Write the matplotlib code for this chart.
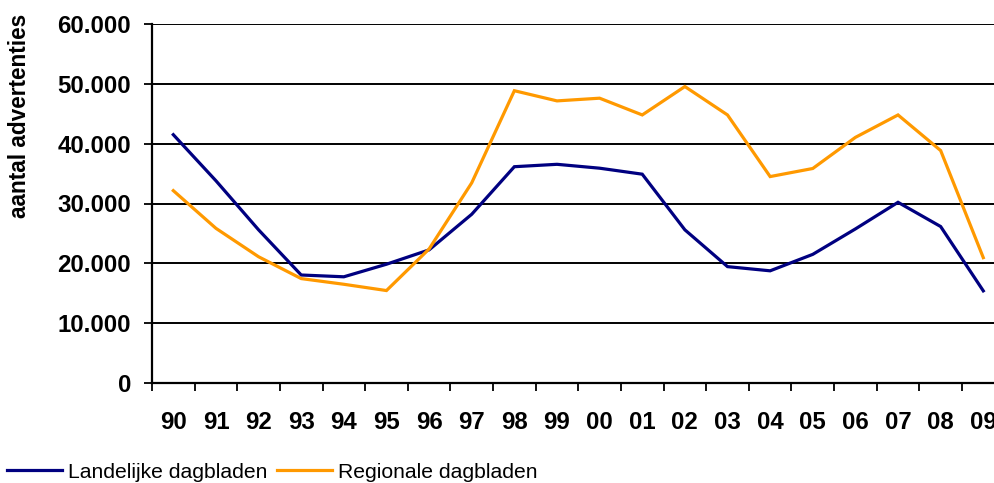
import numpy as np
import matplotlib
matplotlib.use("Agg")
import matplotlib.pyplot as plt
from matplotlib.ticker import FuncFormatter, MultipleLocator

years = ["90", "91", "92", "93", "94", "95", "96", "97", "98", "99",
         "00", "01", "02", "03", "04", "05", "06", "07", "08", "09"]
landelijk = [41500, 33800, 25600, 18050, 17750, 19850, 22250, 28200, 36150, 36550,
             35900, 34900, 25600, 19450, 18750, 21500, 25750, 30200, 26150, 15400]
regionaal = [32150, 25850, 21100, 17450, 16500, 15450, 22400, 33450, 48850, 47150,
             47600, 44800, 49550, 44800, 34500, 35850, 41050, 44800, 38850, 20950]

plt.rcParams["font.family"] = ["Liberation Sans", "DejaVu Sans"]

fig = plt.figure(figsize=(9.95, 4.83), dpi=100)
ax = fig.add_axes([152 / 995, 100 / 483, 852.6 / 995, 359 / 483])

x = np.arange(len(years))
ax.plot(x, landelijk, color="#000080", lw=2.3, label="Landelijke dagbladen",
        solid_joinstyle="miter", clip_on=False)
ax.plot(x, regionaal, color="#FF9900", lw=2.3, label="Regionale dagbladen",
        solid_joinstyle="miter", clip_on=False)

ax.set_xlim(-0.5, len(years) - 0.5)
ax.set_ylim(0, 60000)
ax.yaxis.set_major_locator(MultipleLocator(10000))
ax.yaxis.set_major_formatter(FuncFormatter(lambda v, p: f"{int(v):,}".replace(",", ".")))
ax.grid(axis="y", color="black", lw=1.4)
ax.set_axisbelow(True)

ax.set_xticks(x)
ax.set_xticklabels(years)
ax.set_xticks(np.arange(len(years) + 1) - 0.5, minor=True)
ax.tick_params(axis="x", which="major", length=0, pad=20, labelsize=17.3)
ax.tick_params(axis="x", which="minor", length=6, width=1.3, direction="out")
ax.tick_params(axis="y", length=6, width=1.3, pad=9, labelsize=17.3)
for lab in ax.get_xticklabels() + ax.get_yticklabels():
    lab.set_fontweight("bold")

for s in ["top", "right"]:
    ax.spines[s].set_visible(False)
for s in ["left", "bottom"]:
    ax.spines[s].set_linewidth(1.6)

ax.set_ylabel("aantal advertenties", fontsize=16.3, fontweight="bold")
ax.yaxis.set_label_coords(-0.142, 0.745)

fig.legend(loc="center left", bbox_to_anchor=(7 / 995, 11 / 483), ncol=2,
           frameon=False, fontsize=15.2, borderpad=0, borderaxespad=0,
           handlelength=2.6, handletextpad=0.28, columnspacing=0.47)

fig.savefig("out.png", dpi=100)
